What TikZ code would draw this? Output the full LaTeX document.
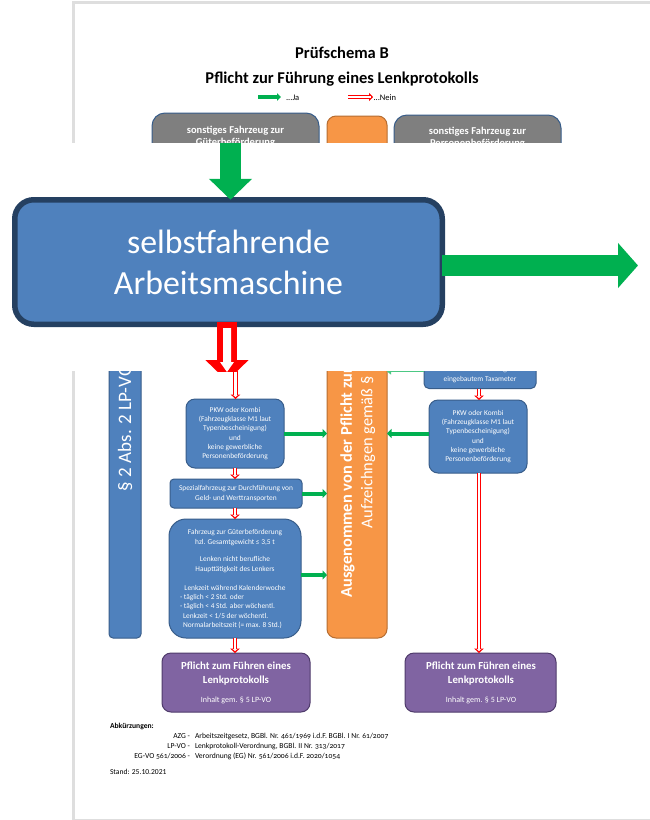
\documentclass[tikz,border=0pt]{standalone}
\usepackage{fontspec}
\setmainfont{Carlito}
\usetikzlibrary{arrows.meta}
\definecolor{bluef}{HTML}{4F81BD}
\definecolor{blued}{HTML}{385D8A}
\definecolor{bluebig}{HTML}{254061}
\definecolor{greenA}{HTML}{00B050}
\definecolor{orangeF}{HTML}{F79646}
\definecolor{orangeD}{HTML}{B66D31}
\definecolor{purpleF}{HTML}{8064A2}
\definecolor{purpleD}{HTML}{4F3B6B}
\definecolor{grayF}{HTML}{7F7F7F}
\definecolor{pageline}{HTML}{DEDEDE}
\newcommand{\fsz}[2]{\fontsize{#1}{#2}\selectfont}
\tikzset{
  x=1pt,y=-1pt,
  bx/.style={rectangle,rounded corners=#1,draw=blued,line width=1pt,fill=bluef,text=white,inner sep=0pt,outer sep=0pt,align=center,font=\fsz{7.4}{9.3}},
  bx/.default=9pt,
  grayb/.style={bx=13pt,fill=grayF},
  purp/.style={bx=9pt,draw=purpleD,fill=purpleF},
  txt/.style={inner sep=0pt,outer sep=0pt,text=black},
  wtxt/.style={inner sep=0pt,outer sep=0pt,text=white,align=center,font=\fsz{7.4}{9.3}},
  graytxt/.style={wtxt,font=\fsz{10.5}{12.2}\bfseries},
  purptxt/.style={wtxt,font=\fsz{10.8}{13.2}\bfseries},
  sidetxt/.style={inner sep=0pt,outer sep=0pt,text=white,rotate=90,anchor=west},
  foot/.style={txt,font=\fsz{7.6}{9}},
  footold/.style={txt,font=\fsz{7.6}{9}\addfontfeatures{Numbers=OldStyle}},
  yes/.style={draw=greenA,line width=4pt,-{Triangle[length=4.5pt,width=9pt]}},
  no/.style={draw=red,line width=4.6pt,-{Triangle[length=4.5pt,width=9.5pt]},
     postaction={draw=white,line width=2.2pt,shorten >=2pt,-{Triangle[length=2pt,width=4.5pt]}}},
}
\begin{document}
\begin{tikzpicture}
\useasboundingbox (0,0) rectangle (650,820);
\fill[white] (0,0) rectangle (650,820);
% page edge
\fill[pageline] (72,1) rectangle (650,3.5);
\fill[pageline] (72,1) rectangle (75,820);
\fill[pageline] (72,819) rectangle (650,820);
% heading
\node[txt,font=\fsz{16.5}{18}\bfseries] (t1) at (342,52.5) {Prüfschema B};
\node[txt,font=\fsz{16.5}{18}\bfseries] (t2) at (342,79) {Pflicht zur Führung eines Lenkprotokolls};
% legend
\coordinate (lga) at (258,97); \coordinate (lgb) at (281,97);
\coordinate (lna) at (348,97); \coordinate (lnb) at (373,97);
\draw[draw=greenA,line width=3.6pt,-{Triangle[length=4pt,width=7.5pt]}] (lga) -- (lgb);
\draw[draw=red,line width=4.2pt,-{Triangle[length=4pt,width=8pt]},postaction={draw=white,line width=2pt,shorten >=2pt,-}] (lna) -- (lnb);
\node[txt,anchor=west,font=\fsz{8.5}{9}] (lj) at (286,97.5) {...Ja};
\node[txt,anchor=west,font=\fsz{8.5}{9}] (ln) at (373.5,97.5) {...Nein};
% upper boxes (mostly hidden by the enlarged detail)
\node[grayb,minimum width=167,minimum height=60] (gl) at (235.5,143) {};
\node[grayb,minimum width=167,minimum height=60] (gr) at (477.5,145) {};
\node[graytxt] (glt) at (235.5,137) {sonstiges Fahrzeug zur\\Güterbeförderung};
\node[graytxt] (grt) at (477.5,137.5) {sonstiges Fahrzeug zur\\Personenbeförderung};
% side bars
\node[bx=4pt,minimum width=32,minimum height=438] (bar) at (125,419) {};
\node[sidetxt,font=\fsz{19}{22}] (bart) at (125,491) {§ 2 Abs. 2 LP-VO};
\node[bx=9pt,draw=orangeD,fill=orangeF,minimum width=60,minimum height=522] (ora) at (357,377) {};
\node[sidetxt,font=\fsz{16.4}{22}\bfseries] (orat) at (347.5,597.5) {Ausgenommen von der Pflicht zur};
\node[sidetxt,font=\fsz{16.5}{22}] (orab) at (368,528) {Aufzeichngen gemäß §};
% left column
\node[bx,minimum width=98,minimum height=69] (pkwl) at (235,433.5) {PKW oder Kombi\\(Fahrzeugklasse M1 laut\\Typenbescheinigung)\\und\\keine gewerbliche\\Personenbeförderung};
\node[bx=4pt,minimum width=132,minimum height=29] (spez) at (236,493.5) {Spezialfahrzeug zur Durchführung von\\Geld- und Werttransporten};
\node[bx=17pt,minimum width=132,minimum height=119] (guet) at (235,578.5) {};
\node[wtxt] (g1) at (235,537.5) {Fahrzeug zur Güterbeförderung\\hzl. Gesamtgewicht ≤ 3,5 t};
\node[wtxt] (g2) at (235,564.5) {Lenken nicht berufliche\\Haupttätigkeit des Lenkers};
\node[wtxt] (g3) at (235,588) {Lenkzeit während Kalenderwoche};
\node[wtxt,align=left,anchor=north west] (g4) at (180,594.5) {- täglich < 2 Std. oder\\- täglich < 4 Std. aber wöchentl.\\\hspace{3pt}Lenkzeit < 1/5 der wöchentl.\\\hspace{3pt}Normalarbeitszeit (= max. 8 Std.)};
% right column
\node[bx=5pt,minimum width=112,minimum height=34] (taxi) at (480,371.5) {};
\node[wtxt] (taxit) at (480,374.6) {Personenbeförderung mit\\eingebautem Taxameter};
\node[bx,minimum width=98,minimum height=73] (pkwr) at (478,436.5) {PKW oder Kombi\\(Fahrzeugklasse M1 laut\\Typenbescheinigung)\\und\\keine gewerbliche\\Personenbeförderung};
% result boxes
\node[purp,minimum width=148,minimum height=59] (pfl) at (236,682.5) {};
\node[purp,minimum width=151,minimum height=59] (pfr) at (480.5,682.5) {};
\node[purptxt] (pflt) at (236,673.5) {Pflicht zum Führen eines\\Lenkprotokolls};
\node[purptxt] (pfrt) at (481,673.5) {Pflicht zum Führen eines\\Lenkprotokolls};
\node[wtxt,font=\fsz{8}{9}] (pfli) at (236,700) {Inhalt gem. § 5 LP-VO};
\node[wtxt,font=\fsz{8}{9}] (pfri) at (481,700.5) {Inhalt gem. § 5 LP-VO};
% connectors in the document
\coordinate (smallin) at (235.5,360);
\draw[no] (smallin) -- (smallin |- pkwl.north);
\draw[yes] (pkwl.east) -- (pkwl.east -| ora.west);
\draw[yes] (spez.east) -- (spez.east -| ora.west);
\draw[yes] ([yshift=3.5pt]guet.east) -- ([yshift=3.5pt]guet.east -| ora.west);
\draw[yes] ([yshift=3pt]pkwr.west) -- ([yshift=3pt]pkwr.west -| ora.east);
\draw[draw=greenA!70,line width=1.5pt,-{Triangle[length=4pt,width=6pt]}] (taxi.west) -- (taxi.west -| ora.east);
\draw[no] (pkwl.south) -- (pkwl.south |- spez.north);
\draw[no] (pkwl.south |- spez.south) -- (pkwl.south |- guet.north);
\draw[no] (guet.south) -- (guet.south |- pfl.north);
\draw[no] ([xshift=1pt]pkwr.north |- taxi.south) -- ([xshift=1pt]pkwr.north);
\draw[no] ([xshift=1pt]pkwr.south) -- ([xshift=1pt]pkwr.south |- pfr.north);
% footer
\node[txt,anchor=base west,font=\fsz{7.6}{9}\bfseries] (abk) at (110,728.5) {Abkürzungen:};
\node[foot,anchor=base east] (a1) at (190,738.5) {AZG -};
\node[foot,anchor=base east] (a2) at (190,748.5) {LP-VO -};
\node[footold,anchor=base east] (a3) at (190,758.5) {EG-VO 561/2006 -};
\node[footold,anchor=base west] (b1) at (195,738.5) {Arbeitszeitgesetz, BGBl. Nr. 461/1969 i.d.F. BGBl. I Nr. 61/2007};
\node[footold,anchor=base west] (b2) at (195,748.5) {Lenkprotokoll-Verordnung, BGBl. II Nr. 313/2017};
\node[footold,anchor=base west] (b3) at (195,758.5) {Verordnung (EG) Nr. 561/2006 i.d.F. 2020/1054};
\node[foot,anchor=base west] (st) at (110,774.5) {Stand: 25.10.2021};
% white band of the enlarged detail
\fill[white] (0,143) rectangle (650,371);
% enlarged detail
\node[rectangle,rounded corners=19pt,draw=bluebig,line width=5.5pt,fill=bluef,text=white,inner sep=0pt,outer sep=0pt,align=center,minimum width=427.5,minimum height=124.5,font=\fsz{33.8}{41}] (big) at (228.5,262) {selbstfahrende\\Arbeitsmaschine};
\coordinate (bigin) at (230.5,143);
\draw[draw=greenA,line width=21pt,-{Triangle[length=21pt,width=42pt]}] (bigin) -- (bigin |- big.north);
\coordinate (bigout) at (638,265.5);
\coordinate (bigoutst) at (442,265.5);
\draw[draw=greenA,line width=21pt,-{Triangle[length=20pt,width=44pt]}] (bigoutst) -- (bigout);
\begin{scope}
\clip (0,300) rectangle (650,371);
\coordinate (redst) at (227,322);
\coordinate (redend) at (227,381);
\draw[draw=red,line width=20pt,-{Triangle[length=21pt,width=42pt]}] (redst) -- (redend);
\fill[white] (223,328) -- (231,328) -- (231,362) -- (234,362) -- (227,372) -- (220,362) -- (223,362) -- cycle;
\end{scope}
\end{tikzpicture}
\end{document}
